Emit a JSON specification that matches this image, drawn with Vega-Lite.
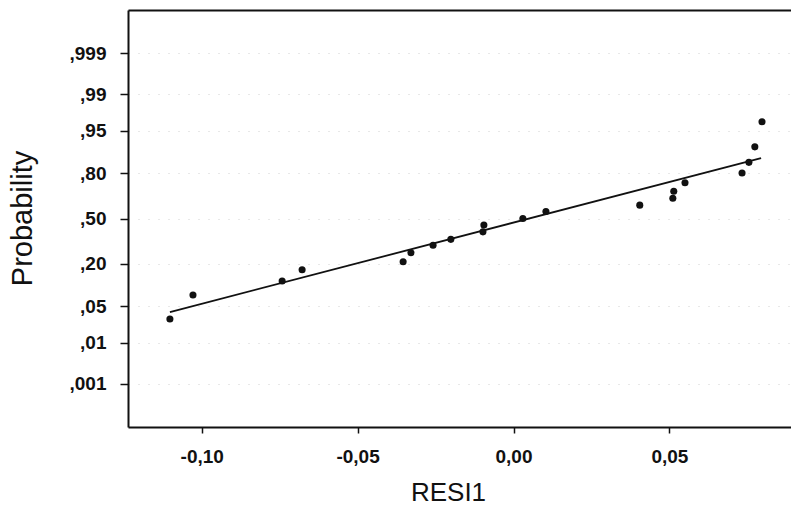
{
  "$schema": "https://vega.github.io/schema/vega-lite/v6.json",
  "width": 663,
  "height": 417,
  "autosize": "none",
  "padding": {"left": 128, "top": 10, "right": 0, "bottom": 84},
  "background": "white",
  "config": {
    "view": {"stroke": null},
    "font": "Liberation Sans",
    "axis": {
      "labelFont": "Liberation Sans",
      "titleFont": "Liberation Sans",
      "labelColor": "#111",
      "titleColor": "#111",
      "labelFontWeight": "bold",
      "domainColor": "#111",
      "domainWidth": 2,
      "tickColor": "#111",
      "tickWidth": 1.5,
      "titleFontWeight": "normal"
    }
  },
  "datasets": {
    "points": [
      {"resid": -0.1102, "z": -1.88},
      {"resid": -0.1028, "z": -1.43},
      {"resid": -0.0742, "z": -1.17},
      {"resid": -0.0678, "z": -0.96},
      {"resid": -0.0354, "z": -0.81},
      {"resid": -0.0329, "z": -0.64},
      {"resid": -0.0258, "z": -0.50},
      {"resid": -0.0201, "z": -0.39},
      {"resid": -0.0098, "z": -0.25},
      {"resid": -0.0095, "z": -0.12},
      {"resid": 0.0030, "z": 0.0},
      {"resid": 0.0104, "z": 0.13},
      {"resid": 0.0405, "z": 0.25},
      {"resid": 0.0511, "z": 0.38},
      {"resid": 0.0514, "z": 0.51},
      {"resid": 0.0550, "z": 0.67},
      {"resid": 0.0733, "z": 0.85},
      {"resid": 0.0755, "z": 1.05},
      {"resid": 0.0774, "z": 1.34},
      {"resid": 0.0797, "z": 1.81}
    ],
    "fit": [
      {"resid": -0.1102, "z": -1.75},
      {"resid": 0.0794, "z": 1.13}
    ]
  },
  "layer": [
    {
      "data": {"name": "fit"},
      "mark": {"type": "line", "color": "#111", "strokeWidth": 1.8},
      "encoding": {
        "x": {
          "field": "resid",
          "type": "quantitative",
          "axis": {"orient": "top", "title": null, "labels": false, "ticks": false, "grid": false, "domain": true}
        },
        "y": {"field": "z", "type": "quantitative"}
      }
    },
    {
      "data": {"name": "points"},
      "mark": {"type": "circle", "color": "#111", "opacity": 1, "size": 50},
      "encoding": {
        "x": {
          "field": "resid",
          "type": "quantitative",
          "scale": {"domain": [-0.12364, 0.089], "nice": false, "zero": false},
          "axis": {
            "orient": "bottom",
            "title": "RESI1",
            "titleFontSize": 26,
            "titleX": 320,
            "titleY": 73,
            "titleAlign": "center",
            "titleBaseline": "alphabetic",
            "values": [-0.1, -0.05, 0, 0.05],
            "labelExpr": "datum.value < -0.07 ? '-0,10' : datum.value < -0.01 ? '-0,05' : datum.value < 0.01 ? '0,00' : '0,05'",
            "labelFontSize": 19,
            "labelPadding": 14,
            "tickSize": 6,
            "grid": false
          }
        },
        "y": {
          "field": "z",
          "type": "quantitative",
          "scale": {"domain": [-3.9, 3.9], "nice": false, "zero": false},
          "axis": {
            "title": "Probability",
            "titleFontSize": 29,
            "titleAngle": -90,
            "titleX": -106,
            "titleY": 208,
            "titleAlign": "center",
            "titleBaseline": "middle",
            "values": [-3.09, -2.326, -1.645, -0.842, 0, 0.842, 1.645, 2.326, 3.09],
            "labelExpr": "datum.value > 3 ? ',999' : datum.value > 2 ? ',99' : datum.value > 1.5 ? ',95' : datum.value > 0.5 ? ',80' : datum.value > -0.5 ? ',50' : datum.value > -1 ? ',20' : datum.value > -2 ? ',05' : datum.value > -3 ? ',01' : ',001'",
            "labelFontSize": 19,
            "labelPadding": 14,
            "tickSize": 8,
            "grid": true,
            "gridColor": "#999",
            "gridDash": [1, 9],
            "gridOpacity": 0.45,
            "gridWidth": 1
          }
        }
      }
    }
  ]
}
